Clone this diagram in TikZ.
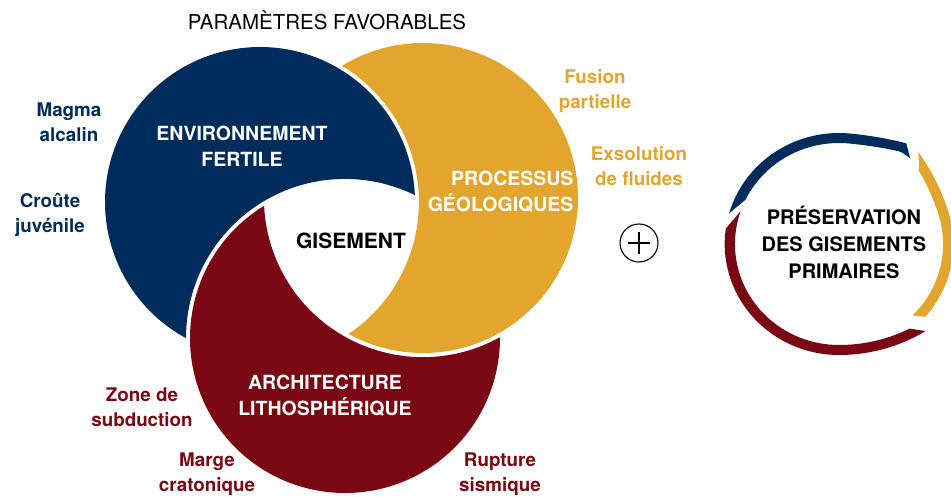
\documentclass[tikz,border=0pt]{standalone}
\usepackage{fontspec}
\setmainfont{TeX Gyre Heros}
\usetikzlibrary{calc}

\definecolor{navy}{RGB}{0,44,91}
\definecolor{gold}{RGB}{226,166,46}
\definecolor{wine}{RGB}{122,8,18}

\begin{document}
\begin{tikzpicture}
 [x=1pt,y=-1pt,
 crest/.style={text=white,font=\bfseries\fontsize{19.5}{26}\selectfont,align=center},
 side/.style={font=\bfseries\fontsize{18.8}{25}\selectfont,align=center},
 declare function={
   fb(\t)=9*min(1,max(0,(84-\t)/27))*min(1,max(0,(84-\t)/27));
   fy(\t)=9*min(1,max(0,(\t-18)/32))*min(1,max(0,(\t-18)/32));
   fr(\t)=10*min(1,max(0,(\t-270)/44))*min(1,max(0,(\t-270)/44));}]
\clip (0,0) rectangle (951,497);

% the three crescents, each one cut by the next circle (+4 gap)
\coordinate (B) at (260,202);
\coordinate (Y) at (423,198);
\coordinate (R) at (345,338);

\fill[navy] (B) ++(-2.5:155) arc[start angle=-2.5, end angle=-241.5, radius=155]
  arc[start angle=179.9, end angle=296.05, radius=159] -- cycle;
\fill[gold] (Y) ++(-121.5:155) arc[start angle=-121.5, end angle=118.7, radius=155]
  arc[start angle=56.1, end angle=-58.9, radius=159] -- cycle;
\fill[wine] (R) ++(-121.4:155) arc[start angle=-121.4, end angle=-360.3, radius=155]
  arc[start angle=61.0, end angle=177.2, radius=159] -- cycle;

\node (title) at (327,20) {\fontsize{20.5}{24}\selectfont PARAMÈTRES FAVORABLES};
\node[crest] (env) at (242,146) {ENVIRONNEMENT\\FERTILE};
\node[crest,align=right,anchor=east] (proc) at (577,192) {PROCESSUS\\GÉOLOGIQUES};
\node[crest] (arch) at (325,396) {ARCHITECTURE\\LITHOSPHÉRIQUE};
\node[font=\bfseries\fontsize{21}{25}\selectfont] (gis) at (351,241) {GISEMENT};

\node[side,navy] (magma) at (69,122) {Magma\\alcalin};
\node[side,navy] (croute) at (50,215) {Croûte\\juvénile};
\node[side,gold] (fusion) at (595,91) {Fusion\\partielle};
\node[side,gold] (exsol) at (639,166) {Exsolution\\de fluides};
\node[side,wine] (zone) at (142,407) {Zone de\\subduction};
\node[side,wine] (marge) at (207,474) {Marge\\cratonique};
\node[side,wine] (rupt) at (500,474) {Rupture\\sismique};

% plus sign
\node[circle,draw,line width=1.1pt,minimum size=38,inner sep=0pt] (plus) at (639,243) {};
\draw[line width=1.1pt] ($(plus)+(-11,0)$) -- ($(plus)+(11,0)$);
\draw[line width=1.1pt] ($(plus)+(0,-11)$) -- ($(plus)+(0,11)$);

% broken ring
\begin{scope}[shift={(839,244)},yscale=-1,xscale=1.03]
\fill[navy] plot[domain=164:57,samples=60,variable=\t] (\t:{111+fb(\t)})
  -- plot[domain=51:154,samples=60,variable=\t] (\t:{101+fb(\t)}) -- cycle;
\fill[gold] plot[domain=50:-41,samples=60,variable=\t] (\t:{111+fy(\t)})
  -- plot[domain=-45:43,samples=60,variable=\t] (\t:{101+fy(\t)}) -- cycle;
\fill[wine] plot[domain=172:314,samples=70,variable=\t] (\t:{111+fr(\t)})
  -- plot[domain=309:161,samples=70,variable=\t] (\t:{101+fr(\t)}) -- cycle;
\end{scope}
\node[font=\bfseries\fontsize{20}{27}\selectfont,align=center] (pres) at (844,242)
  {PRÉSERVATION\\DES GISEMENTS\\PRIMAIRES};
\end{tikzpicture}
\end{document}
